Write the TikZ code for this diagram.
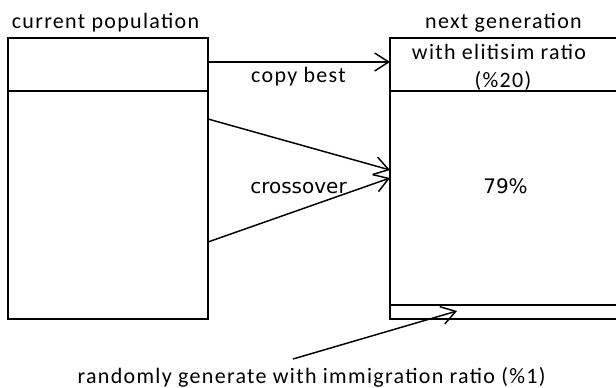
\documentclass[tikz,border=0pt]{standalone}
\usepackage{fontspec}
\setmainfont{Carlito}[LetterSpace=6]
\newfontfamily\dejavu{DejaVu Sans}
\usetikzlibrary{arrows.meta,calc}
\begin{document}
\begin{tikzpicture}[x=0.75pt,y=-0.75pt,
  box/.style={draw,line width=1.5pt,inner sep=0pt,outer sep=0pt},
  arr/.style={line width=1.1pt,-{Straight Barb[length=10.5pt,width=13.5pt,line width=1.1pt]}},
  lbl/.style={inner sep=0pt,anchor=base,font=\fontsize{16.5}{19}\selectfont},
  dlbl/.style={inner sep=0pt,anchor=base,font=\dejavu\fontsize{15}{18}\selectfont}]
\useasboundingbox (0,0) rectangle (616,388);
% current population
\node[box,minimum width=150pt,minimum height=39.75pt] (curTop) at (108,64.5) {};
\node[box,minimum width=150pt,minimum height=171pt] (curBot) at (108,205) {};
% next generation
\node[box,minimum width=170.25pt,minimum height=39.75pt] (nextTop) at (503.5,64.5) {};
\node[box,minimum width=170.25pt,minimum height=160.5pt] (nextMid) at (503.5,198) {};
\node[box,minimum width=170.25pt,minimum height=10.5pt] (nextBot) at (503.5,312) {};
% texts
\node[lbl] (tcur) at (105.5,29) {current population};
\node[lbl] (tnext) at (503.5,29) {next generation};
\node[lbl] (telit) at (499,60) {with elitisim ratio};
\node[lbl] (tpct) at (503,88) {(\%20)};
\node[lbl] (tcopy) at (298.5,83) {copy best};
\node[dlbl] (tcross) at (298.5,193) {crossover};
\node[dlbl] (t79) at (505.5,193) {79\%};
\node[lbl] (trand) at (311.5,383) {randomly generate with immigration ratio (\%1)};
% connectors
\draw[arr] ($(curTop.east)+(0,-2.5)$) -- ($(nextTop.west)+(0,-2.5)$);
\draw[arr] ($(curBot.north east)+(0,28)$) -- ($(nextMid.north west)+(0,79)$);
\draw[arr] ($(curBot.north east)+(0,151)$) -- ($(nextMid.north west)+(0,87)$);
\coordinate (imStart) at (293,359);
\draw[arr] (imStart) -- ($(nextBot.west)+(67,-1)$);
\end{tikzpicture}
\end{document}
